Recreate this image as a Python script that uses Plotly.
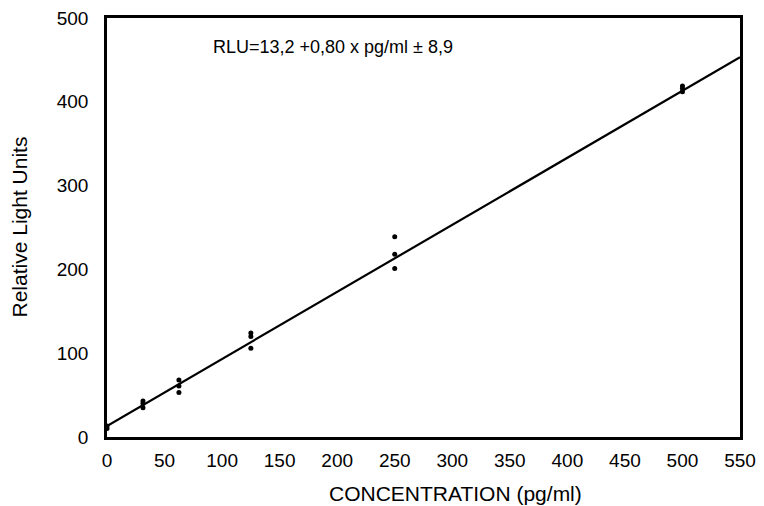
import plotly.graph_objects as go

conc = [0, 0, 31.25, 31.25, 31.25, 62.5, 62.5, 62.5, 125, 125, 125, 250, 250, 250, 500, 500, 500]
rlu = [10, 13, 43, 40, 35, 68, 61, 53, 124, 120, 106, 239, 218, 201, 419, 416, 412]
intercept = 13.2
slope = 0.80
line_x = [0, 550]
line_y = [intercept + slope * v for v in line_x]
x_ticks = list(range(0, 551, 50))
y_ticks = list(range(0, 501, 100))
x_title = "CONCENTRATION (pg/ml)"
y_title = "Relative Light Units"
equation = "RLU=13,2 +0,80 x pg/ml ± 8,9"

FONT = "Liberation Sans, Arial, sans-serif"

fig = go.Figure()
fig.add_trace(go.Scatter(x=line_x, y=line_y, mode="lines",
                         line=dict(color="black", width=2.2), showlegend=False))
fig.add_trace(go.Scatter(x=conc, y=rlu, mode="markers",
                         marker=dict(color="black", size=5), showlegend=False))

fig.add_annotation(x=196, y=465, xref="x", yref="y", text=equation,
                   showarrow=False, xanchor="center", yanchor="middle",
                   font=dict(family=FONT, size=18, color="black"))
# axis titles
fig.add_annotation(x=0.55, y=0, xref="paper", yref="paper", text=x_title,
                   showarrow=False, xanchor="center", yanchor="middle", yshift=-56,
                   font=dict(family=FONT, size=21, color="black"))
fig.add_annotation(x=0, y=0.5, xref="paper", yref="paper", text=y_title, textangle=-90,
                   showarrow=False, xanchor="center", yanchor="middle", xshift=-88,
                   font=dict(family=FONT, size=21, color="black"))

fig.update_layout(
    width=756, height=498,
    margin=dict(l=99, r=24, t=10, b=69),
    paper_bgcolor="white", plot_bgcolor="white",
    font=dict(family=FONT, size=19, color="black"),
    xaxis=dict(range=[0, 550], tickvals=x_ticks, showgrid=False, zeroline=False,
               showline=True, linecolor="black", linewidth=2.5, mirror=True,
               ticks="", ticklabelstandoff=4, automargin=False, ticklabeloverflow="allow"),
    yaxis=dict(range=[0, 500], tickvals=y_ticks, showgrid=False, zeroline=False,
               showline=True, linecolor="black", linewidth=2.5, mirror=True,
               ticks="", ticklabelstandoff=12, automargin=False, ticklabeloverflow="allow"),
)

fig.write_html("out.html")
